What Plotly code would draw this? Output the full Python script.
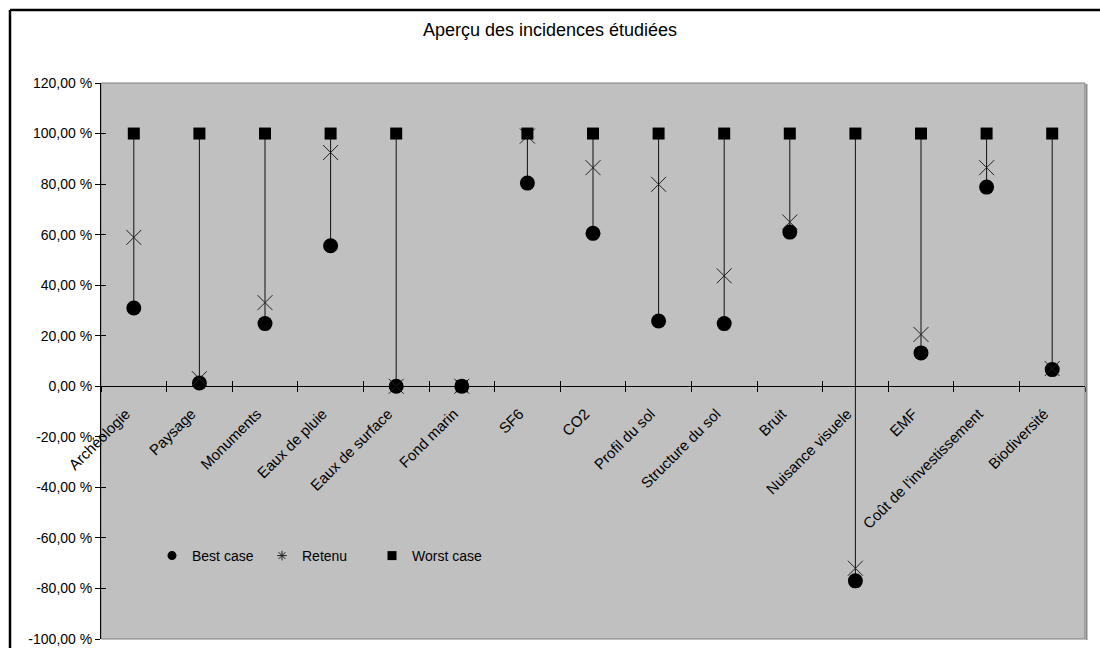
import plotly.graph_objects as go

# Categories studied and the three scenarios (percent)
categories = [
    "Archéologie", "Paysage", "Monuments", "Eaux de pluie", "Eaux de surface",
    "Fond marin", "SF6", "CO2", "Profil du sol", "Structure du sol", "Bruit",
    "Nuisance visuele", "EMF", "Coût de l'investissement", "Biodiversité",
]
best_case = [31.0, 1.3, 24.8, 55.6, 0.0, 0.0, 80.4, 60.5, 25.8, 24.8, 61.0, -77.0, 13.2, 78.8, 6.6]
retenu = [58.9, 3.0, 33.1, 92.5, 0.0, 0.0, 99.0, 86.5, 79.9, 43.7, 65.0, -72.0, 20.5, 86.5, 7.0]
worst_case = [100, 100, 100, 100, 100, 0, 100, 100, 100, 100, 100, 100, 100, 100, 100]

y_ticks = [-100, -80, -60, -40, -20, 0, 20, 40, 60, 80, 100, 120]
y_ticktext = [f"{v},00 %" for v in y_ticks]

FONT = "Liberation Sans, Arial, sans-serif"
W, H = 1100, 648
ML, MR, MT, MB = 101, 15, 83, 9
PW, PH = W - ML - MR, H - MT - MB


def px_x(px):
    return (px - ML) / PW


def px_y(py):
    return (H - MB - py) / PH


# High-low lines between the lowest and highest value of each category
hl_x, hl_y = [], []
for c, b, r, w in zip(categories, best_case, retenu, worst_case):
    lo, hi = min(b, r, w), max(b, r, w)
    if hi > lo:
        hl_x += [c, c, None]
        hl_y += [lo, hi, None]

series = [
    ("Best case", best_case, dict(symbol="circle", size=15, color="black", line=dict(width=0)),
     dict(symbol="circle", size=9, color="black", line=dict(width=0))),
    ("Retenu", retenu,
     dict(symbol="x-thin-open", size=15, color="#202020", line=dict(width=1, color="#202020")),
     dict(symbol="asterisk-open", size=8, color="#202020", line=dict(width=1, color="#202020"))),
    ("Worst case", worst_case, dict(symbol="square", size=12, color="black", line=dict(width=0)),
     dict(symbol="square", size=9, color="black", line=dict(width=0))),
]

fig = go.Figure()
fig.add_trace(go.Scatter(
    x=hl_x, y=hl_y, mode="lines", line=dict(color="#111111", width=1),
    showlegend=False, hoverinfo="skip",
))
for name, values, mk, _ in series:
    fig.add_trace(go.Scatter(
        x=categories, y=values, mode="markers", name=name, marker=mk,
        showlegend=False, legendgroup=name,
    ))
# legend entries use the smaller key symbols
for name, _, _, key in series:
    fig.add_trace(go.Scatter(
        x=[None], y=[None], mode="markers", name=name, marker=key,
        showlegend=True, legendgroup=name, hoverinfo="skip",
    ))
# carrier for the overlay axes that draw the upward half of the cross ticks
fig.add_trace(go.Scatter(
    x=categories[:1], y=[0], xaxis="x2", yaxis="y2", mode="markers",
    marker=dict(opacity=0), showlegend=False, hoverinfo="skip",
))

zero_pos = 100 / 220

fig.update_layout(
    width=W, height=H,
    margin=dict(l=ML, r=MR, t=MT, b=MB, autoexpand=False),
    paper_bgcolor="white",
    plot_bgcolor="#c0c0c0",
    font=dict(family=FONT, size=14, color="black"),
    title=dict(
        text="Aperçu des incidences étudiées", x=px_x(550), y=(H - 30) / H,
        xanchor="center", yanchor="middle", xref="paper",
        font=dict(family=FONT, size=18, color="black"),
    ),
    showlegend=True,
    legend=dict(
        orientation="h", x=px_x(152), y=px_y(556), xanchor="left", yanchor="middle",
        bgcolor="rgba(0,0,0,0)", font=dict(family=FONT, size=14, color="black"),
        itemwidth=30, entrywidth=65, entrywidthmode="pixels",
    ),
    xaxis=dict(
        type="category", categoryorder="array", categoryarray=categories,
        range=[-0.5, len(categories) - 0.5],
        anchor="free", position=zero_pos, automargin=False,
        showline=True, linecolor="black", linewidth=1,
        ticks="outside", ticklen=5, tickcolor="black", tickson="boundaries",
        tickangle=-45, ticklabelstandoff=12, ticklabelshift=-8,
        showgrid=False, zeroline=False,
        tickfont=dict(family=FONT, size=15, color="black"),
    ),
    xaxis2=dict(
        type="category", categoryorder="array", categoryarray=categories,
        range=[-0.5, len(categories) - 0.5], overlaying="x",
        anchor="free", position=zero_pos, automargin=False,
        showline=False, ticks="inside", ticklen=5, tickcolor="black",
        tickson="boundaries", showticklabels=False, showgrid=False, zeroline=False,
    ),
    yaxis=dict(
        range=[-100, 120], tickvals=y_ticks, ticktext=y_ticktext, automargin=False,
        showline=True, linecolor="black", linewidth=1,
        ticks="outside", ticklen=5, tickcolor="black",
        showgrid=False, zeroline=False,
        tickfont=dict(family=FONT, size=14, color="black"),
    ),
    yaxis2=dict(
        range=[-100, 120], tickvals=y_ticks, overlaying="y", anchor="x", automargin=False,
        side="left", showline=False, ticks="inside", ticklen=5, tickcolor="black",
        showticklabels=False, showgrid=False, zeroline=False,
    ),
    shapes=[
        # outer chart frame: top and left edges
        dict(type="line", xref="paper", yref="paper",
             x0=px_x(10), x1=px_x(1100), y0=px_y(10), y1=px_y(10),
             line=dict(color="black", width=2.5), layer="above"),
        dict(type="line", xref="paper", yref="paper",
             x0=px_x(10), x1=px_x(10), y0=px_y(10), y1=px_y(648),
             line=dict(color="black", width=2.5), layer="above"),
        # plot-area border with its shadow on the right
        dict(type="rect", xref="paper", yref="paper", x0=0, x1=1, y0=0, y1=1,
             line=dict(color="#808080", width=1), fillcolor="rgba(0,0,0,0)", layer="below"),
        dict(type="line", xref="paper", yref="paper", x0=px_x(1086.5), x1=px_x(1086.5),
             y0=px_y(640), y1=px_y(84), line=dict(color="#8c8c8c", width=2)),
    ],
)

fig.write_html("out.html")
